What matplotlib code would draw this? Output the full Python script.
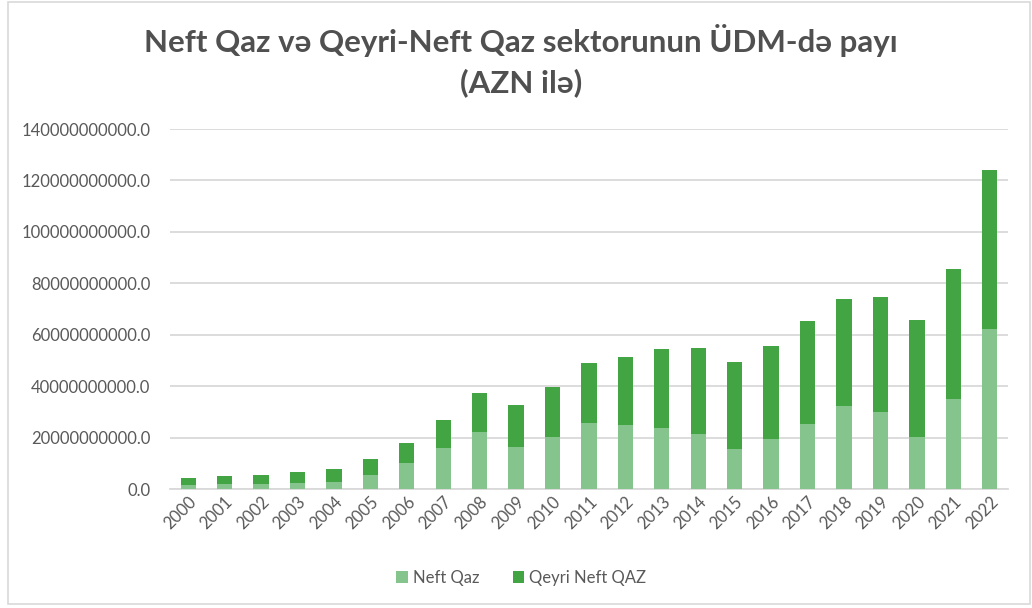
import matplotlib.pyplot as plt
import matplotlib.ticker as mticker
from matplotlib.patches import Rectangle
import numpy as np

plt.rcParams['font.family'] = ['Lato', 'DejaVu Sans']

years = [str(y) for y in range(2000, 2023)]
# values in billions of AZN
total = [4.2, 5.1, 5.4, 6.7, 7.8, 11.5, 18.0, 26.7, 37.5, 32.7, 39.5, 49.1,
         51.5, 54.3, 54.7, 49.5, 55.6, 65.5, 74.0, 74.8, 65.9, 85.6, 124.1]
neft_qaz = [1.6, 1.9, 1.9, 2.5, 2.9, 5.4, 10.3, 15.8, 22.3, 16.5, 20.4, 25.8,
            24.8, 23.9, 21.5, 15.4, 19.4, 25.2, 32.3, 30.0, 20.4, 34.9, 62.4]

neft = np.array(neft_qaz) * 1e9
qeyri = (np.array(total) - np.array(neft_qaz)) * 1e9

light = '#86c48e'
dark = '#43a443'
txt = '#595959'

fig = plt.figure(figsize=(10.32, 6.08), dpi=100)
ax = fig.add_axes([0.1647, 0.1957, 0.812, 0.592])

x = np.arange(len(years))
ax.bar(x, neft, width=0.42, color=light, label='Neft Qaz', zorder=3)
ax.bar(x, qeyri, width=0.42, bottom=neft, color=dark, label='Qeyri Neft QAZ', zorder=3)

ax.set_ylim(0, 140e9)
ax.set_xlim(-0.5, len(years) - 0.5)
ax.yaxis.set_major_locator(mticker.MultipleLocator(20e9))
ax.yaxis.set_major_formatter(mticker.FuncFormatter(lambda v, p: f'{v:.1f}'))
ax.grid(axis='y', color='#d9d9d9', linewidth=1.3, zorder=0)
for s in ['top', 'right', 'left']:
    ax.spines[s].set_visible(False)
ax.spines['bottom'].set_color('#d9d9d9')
ax.spines['bottom'].set_linewidth(1.3)
ax.tick_params(axis='both', length=0, colors=txt, labelsize=12)
ax.tick_params(axis='y', pad=14)
ax.set_xticks(x)
ax.set_xticklabels(years, rotation=45, ha='right', rotation_mode='anchor')

fig.suptitle('Neft Qaz və Qeyri-Neft Qaz sektorunun ÜDM-də payı\n(AZN ilə)',
             x=0.505, y=0.96, fontsize=22.5, fontweight='bold', color='#505050',
             linespacing=1.45)

fig.legend(loc='center', bbox_to_anchor=(0.505, 0.05), ncol=2, frameon=False,
           fontsize=12, labelcolor=txt, handlelength=0.7, handleheight=0.7,
           columnspacing=2.0, handletextpad=0.3)

fig.patches.append(Rectangle((0.008, 0.006), 0.99, 0.99, transform=fig.transFigure,
                             fill=False, edgecolor='#d9d9d9', linewidth=1.2))

fig.savefig('out.png', dpi=100)
